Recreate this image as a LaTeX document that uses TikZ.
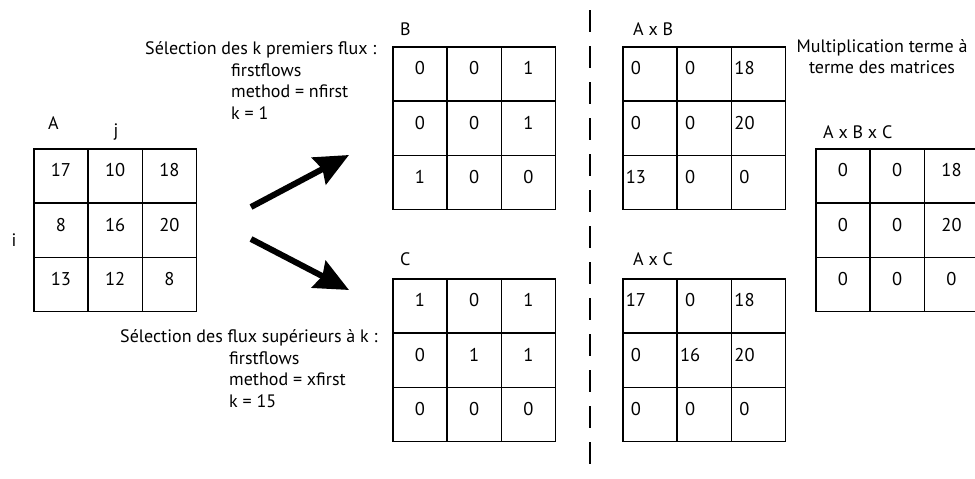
\documentclass[tikz,border=0pt]{standalone}
\usepackage{fontspec}
\setmainfont{PT Sans}
\usetikzlibrary{matrix, positioning, arrows.meta}
\tikzset{
	x=1pt, y=-1pt, % one unit per pixel of the figure, y going down
	txt/.style={font=\fontsize{18}{22}\selectfont, inner sep=0pt, anchor=base west}, % plain labels
	cell/.style={draw, line width=1.5pt, minimum size=54.3pt, inner sep=0pt, text height=12pt, text depth=10pt, font=\fontsize{18.5}{22}\selectfont}, % one entry of a grid
	mat/.style={matrix of nodes, nodes in empty cells, inner sep=0pt, outer sep=0pt, anchor=north west, column sep=-1.5pt, row sep=-1.5pt, nodes={cell}}, % 3x3 grid
	moved/.style={nodes={execute at end node={\hspace*{28pt}}}}, % entries a bit left of centre
	fat arrow/.style={line width=6pt, -{Stealth[length=34pt, width=30pt, inset=4pt]}},
	cut/.style={line width=1.5pt, dash pattern=on 22pt off 14pt},
}

\begin{document}
\begin{tikzpicture}
	\useasboundingbox (0,0) rectangle (975,479);
	\clip (0,0) rectangle (975,479);

	% Define matrices
	\matrix[mat] (A) at (33,148) {17 & 10 & 18\\ 8 & 16 & 20\\ 13 & 12 & 8\\};
	\matrix[mat] (B) at (392,46) {0 & 0 & 1\\ 0 & 0 & 1\\ 1 & 0 & 0\\};
	\matrix[mat] (C) at (392,278) {1 & 0 & 1\\ 0 & 1 & 1\\ 0 & 0 & 0\\};
	\matrix[mat, moved] (AB) at (622,46) {0 & 0 & 18\\ 0 & 0 & 20\\ 13 & 0 & 0\\};
	\matrix[mat, moved] (AC) at (622,278) {17 & 0 & 18\\ 0 & 16 & 20\\ 0 & 0 & 0\\};
	\matrix[mat] (ABC) at (815,148) {0 & 0 & 18\\ 0 & 0 & 20\\ 0 & 0 & 0\\};

	% Names of the matrices
	\node[txt] (nameA) at (48,129) {A};
	\node[txt, anchor=base] (colj) at (116,136) {j};
	\node[txt, anchor=center] (rowi) at (14,240) {i};
	\node[txt] (nameB) at (400,35) {B};
	\node[txt] (nameC) at (400,265) {C};
	\node[txt] (nameAB) at (633,35) {A x B};
	\node[txt] (nameAC) at (633,265) {A x C};
	\node[txt] (nameABC) at (823,138) {A x B x C};

	% Selection texts
	\node[txt] (selB) at (145,54) {Sélection des k premiers flux :};
	\node[txt] (funB) at (231,76) {firstflows};
	\node[txt, below=21.5pt of funB.base west, anchor=base west] (methB) {method = nfirst};
	\node[txt, below=21.5pt of methB.base west, anchor=base west] (kB) {k = 1};

	\node[txt] (selC) at (120,342) {Sélection des flux supérieurs à k :};
	\node[txt] (funC) at (229,364) {firstflows};
	\node[txt, below=21.5pt of funC.base west, anchor=base west] (methC) {method = xfirst};
	\node[txt, below=21.5pt of methC.base west, anchor=base west] (kC) {k = 15};

	\node[txt, anchor=base] (mult1) at (882,52) {Multiplication terme à};
	\node[txt, below=21.5pt of mult1.base, anchor=base] (mult2) {terme des matrices};

	% Arrows and separator
	\coordinate (up tail) at (251,207);
	\coordinate (up head) at (349,155);
	\coordinate (down tail) at (251,239);
	\coordinate (down head) at (349,290);
	\draw[fat arrow] (up tail) -- (up head);
	\draw[fat arrow] (down tail) -- (down head);

	\coordinate (cut top) at (590,10);
	\coordinate (cut bottom) at (590,466);
	\draw[cut] (cut top) -- (cut bottom);
\end{tikzpicture}
\end{document}
